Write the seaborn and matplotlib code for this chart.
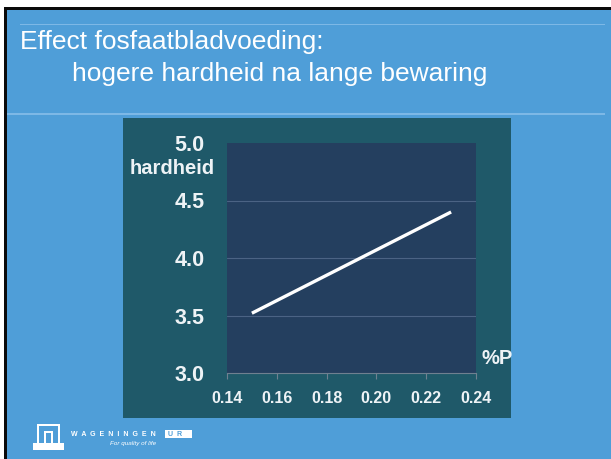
import matplotlib
matplotlib.use("Agg")
import matplotlib.pyplot as plt
import matplotlib.patches as mpatches
import numpy as np
import pandas as pd
import seaborn as sns

# data
fosfaat = [0.15, 0.23]
hardheid = [3.52, 4.40]
x_ticks = [0.14, 0.16, 0.18, 0.20, 0.22, 0.24]
y_ticks = [3.0, 3.5, 4.0, 4.5, 5.0]

slide_blue = "#4F9ED8"
panel_teal = "#1F5969"
plot_navy = "#243F5F"
txt = "#EEF3F6"

sns.set_theme(style="dark")
plt.rcParams['font.family'] = ['Liberation Sans', 'DejaVu Sans']

fig = plt.figure(figsize=(6.11, 4.59), dpi=100)
fig.patch.set_facecolor(slide_blue)
W, H = 611.0, 459.0

def box(x0, y0, x1, y1, **kw):
    # pixel coords (top-left origin) -> figure rectangle
    r = mpatches.Rectangle((x0 / W, 1 - y1 / H), (x1 - x0) / W, (y1 - y0) / H,
                           transform=fig.transFigure, figure=fig, zorder=0, **kw)
    fig.patches.append(r)
    return r

# white strip + black frame at top/left
box(0, 0, W, 8, color="white", lw=0)
box(0, 0, 5, H, color="white", lw=0)
box(4, 7, W, 10, color="#0A0A0A", lw=0)
box(4, 7, 7, H, color="#0A0A0A", lw=0)

# thin separator lines
box(20, 23.5, 605, 25, color="#7DB8E6", lw=0)
box(7, 113.5, 605, 115, color="#7DB8E6", lw=0)

# chart panel
box(123, 118, 511, 418, color=panel_teal, lw=0)

fig.text(20 / W, 1 - 49 / H, "Effect fosfaatbladvoeding:", color="white",
         fontsize=19, ha="left", va="baseline")
fig.text(72 / W, 1 - 81 / H, "hogere hardheid na lange bewaring", color="white",
         fontsize=19, ha="left", va="baseline")

ax = fig.add_axes([227 / W, 1 - 373 / H, (476 - 227) / W, (373 - 143) / H])
ax.set_zorder(3)
ax.set_facecolor(plot_navy)
df = pd.DataFrame({"p": fosfaat, "hardheid": hardheid})
sns.lineplot(data=df, x="p", y="hardheid", ax=ax, color="white", lw=2.4,
             solid_capstyle="butt")
ax.set_xlim(0.14, 0.24)
ax.set_ylim(3.0, 5.0)
ax.set_xticks(x_ticks)
ax.set_xticklabels([f"{v:.2f}" for v in x_ticks], fontsize=11.5, fontweight="bold", color=txt)
ax.set_yticks(y_ticks)
ax.set_yticklabels([f"{v:.1f}" for v in y_ticks], fontsize=15.5, fontweight="bold", color=txt)
ax.set_xlabel("")
ax.set_ylabel("")
ax.grid(False)
for v in y_ticks[1:-1]:
    ax.axhline(v, color="#4B6384", lw=0.8, zorder=0)
for s in ["top", "right", "left"]:
    ax.spines[s].set_visible(False)
ax.spines["bottom"].set_color("#6F8090")
ax.spines["bottom"].set_linewidth(0.8)
ax.tick_params(axis="x", length=4, color="#6F8090", width=0.8, pad=9, bottom=True)
ax.tick_params(axis="y", length=0, pad=16)

fig.text(130 / W, 1 - 168 / H, "hardheid", color=txt, fontsize=14.5,
         fontweight="bold", ha="left", va="center")
fig.text(481 / W, 1 - 358 / H, "%P", color=txt, fontsize=14.5,
         fontweight="bold", ha="left", va="center")

# logo
box(37, 424, 39, 444, color="white", lw=0)
box(37, 424, 60, 426, color="white", lw=0)
box(58, 424, 60, 444, color="white", lw=0)
box(44, 431, 53, 433, color="white", lw=0)
box(44, 431, 46, 444, color="white", lw=0)
box(51, 431, 53, 444, color="white", lw=0)
box(33, 443, 64, 450, color="white", lw=0)
fig.text(71 / W, 1 - 434 / H, "W  A  G  E  N  I  N  G  E  N", color="white", fontsize=5,
         fontweight="bold", ha="left", va="center")
box(165, 430, 192, 438, color="white", lw=0)
fig.text(168 / W, 1 - 434 / H, "U  R", color=slide_blue, fontsize=5,
         fontweight="bold", ha="left", va="center")
fig.text(110 / W, 1 - 443 / H, "For quality of life", color="white", fontsize=4.5,
         style="italic", ha="left", va="center")

fig.savefig("out.png", dpi=100, facecolor=fig.get_facecolor())
